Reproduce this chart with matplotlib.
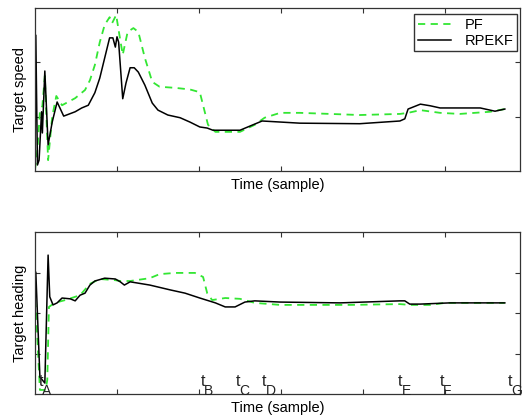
import matplotlib
matplotlib.use("Agg")
import matplotlib.pyplot as plt

plt.rcParams["font.family"] = ["Liberation Sans", "DejaVu Sans"]

# speed (top panel)
speed_rpekf_x = [0, 1, 3, 5, 8, 9, 12, 16, 21, 27, 35, 49, 57, 65, 73, 79, 85, 91, 95, 98,
                 100, 102, 107, 111, 116, 121, 126, 134, 143, 150, 162, 177, 189, 201, 210,
                 217, 250, 277, 323, 396, 445, 451, 455, 470, 482, 494, 518, 543, 561, 573]
speed_rpekf_y = [0.02, 2.50, 0.11, 0.20, 1.09, 0.70, 1.84, 0.48, 0.90, 1.27, 1.01, 1.09,
                 1.16, 1.21, 1.44, 1.71, 2.08, 2.45, 2.45, 2.28, 2.47, 2.37, 1.33, 1.62,
                 1.90, 1.90, 1.82, 1.58, 1.25, 1.12, 1.03, 0.98, 0.90, 0.81, 0.79, 0.75,
                 0.75, 0.92, 0.88, 0.87, 0.92, 0.96, 1.14, 1.23, 1.20, 1.16, 1.16, 1.16,
                 1.10, 1.14]
speed_pf_x = [0, 3, 6, 9, 12, 16, 21, 26, 33, 49, 61, 67, 73, 79, 85, 91, 94, 99, 103, 107,
              113, 120, 126, 134, 143, 152, 171, 189, 201, 207, 211, 220, 250, 268, 280,
              299, 323, 360, 396, 445, 455, 470, 494, 518, 555, 573]
speed_pf_y = [0.02, 0.40, 1.09, 1.20, 1.75, 0.20, 1.00, 1.38, 1.21, 1.34, 1.49, 1.67, 1.95,
              2.37, 2.69, 2.83, 2.72, 2.87, 2.50, 2.14, 2.56, 2.63, 2.56, 2.08, 1.64, 1.55,
              1.53, 1.50, 1.45, 1.09, 0.85, 0.72, 0.72, 0.85, 0.98, 1.07, 1.07, 1.05, 1.03,
              1.05, 1.07, 1.12, 1.07, 1.05, 1.09, 1.14]

# heading (bottom panel)
head_rpekf_x = [0, 1, 6, 12, 16, 18, 22, 27, 33, 43, 49, 55, 61, 67, 73, 85, 98, 104, 109,
                116, 140, 165, 183, 201, 220, 232, 244, 256, 268, 299, 372, 445, 451, 457,
                470, 506, 573]
head_rpekf_y = [3.01, 3.01, 0.42, 0.27, 3.43, 2.40, 2.20, 2.25, 2.37, 2.35, 2.30, 2.44,
                2.49, 2.69, 2.79, 2.86, 2.84, 2.77, 2.69, 2.77, 2.69, 2.57, 2.49, 2.37,
                2.25, 2.15, 2.15, 2.27, 2.30, 2.27, 2.25, 2.30, 2.30, 2.22, 2.22, 2.25, 2.25]
head_pf_x = [0, 1, 6, 13, 15, 17, 24, 37, 55, 67, 79, 98, 104, 116, 140, 152, 171, 195, 205,
             210, 216, 232, 250, 268, 299, 323, 384, 445, 457, 482, 500, 573]
head_pf_y = [2.32, 2.15, 0.10, 0.10, 0.35, 2.15, 2.25, 2.32, 2.44, 2.72, 2.84, 2.81, 2.79,
             2.79, 2.86, 2.96, 2.99, 2.99, 2.89, 2.49, 2.32, 2.37, 2.35, 2.25, 2.20, 2.20,
             2.20, 2.22, 2.20, 2.20, 2.25, 2.25]

# event markers on the time axis
event_names = ["A", "B", "C", "D", "E", "F", "G"]
event_times = [5, 202, 245, 277, 443, 494, 577]

PF_COLOR = "#33e633"
AX_COLOR = "#333333"


def style_axes(ax, ymax):
    ax.set_xlim(0, 591.5)
    ax.set_ylim(0, ymax)
    ax.set_xticks([100, 200, 300, 400, 500])
    ax.set_yticks(range(1, ymax))
    ax.tick_params(direction="in", length=3.5, width=0.8, color=AX_COLOR,
                   top=True, right=True, labelbottom=False, labelleft=False)
    for sp in ax.spines.values():
        sp.set_color(AX_COLOR)
        sp.set_linewidth(0.9)
    ax.set_xlabel("Time (sample)", fontsize=10.5, labelpad=5)


fig = plt.figure(figsize=(5.23, 4.20), dpi=100)
ax1 = fig.add_axes([0.0669, 0.5929, 0.9274, 0.3881])
ax2 = fig.add_axes([0.0669, 0.0619, 0.9274, 0.3857])

ax1.plot(speed_pf_x, speed_pf_y, color=PF_COLOR, ls=(0, (4, 3)), lw=1.3, label="PF")
ax1.plot(speed_rpekf_x, speed_rpekf_y, color="black", lw=1.1, label="RPEKF")
style_axes(ax1, 3)
ax1.set_ylabel("Target speed", fontsize=10.5, labelpad=6)
ax1.legend(loc="upper right", bbox_to_anchor=(0.997, 0.972), fontsize=10.5,
           frameon=True, fancybox=False, edgecolor="black", handlelength=2.3,
           borderpad=0.25, labelspacing=0.15, handletextpad=0.9, borderaxespad=0.1)

ax2.plot(head_pf_x, head_pf_y, color=PF_COLOR, ls=(0, (4, 3)), lw=1.3)
ax2.plot(head_rpekf_x, head_rpekf_y, color="black", lw=1.1)
style_axes(ax2, 4)
ax2.set_ylabel("Target heading", fontsize=10.5, labelpad=6)

# "t" with a lowered letter next to it, as in the original figure
for name, t in zip(event_names, event_times):
    ax2.text(t, 0.2, "t", fontsize=11.5, ha="left", va="baseline", color="#222222")
    ax2.text(t + 4.0, -0.02, name, fontsize=10, ha="left", va="baseline",
             color="#222222")

fig.savefig("out.png", dpi=100)
